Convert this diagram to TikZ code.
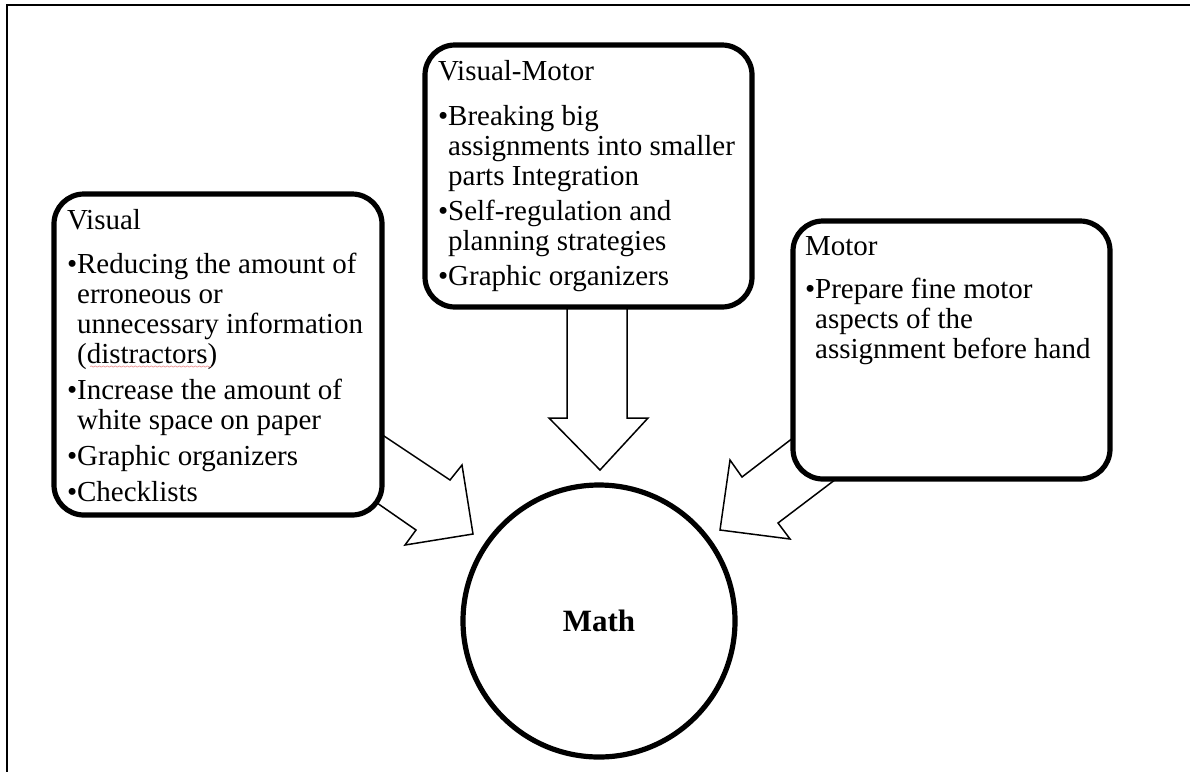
\documentclass[tikz,border=0pt]{standalone}
\usepackage{fontspec}
\setmainfont{Liberation Serif}
\usetikzlibrary{decorations.pathmorphing}
\newcommand{\bodyfont}{\fontsize{29}{30}\selectfont}
\newcommand{\myind}{\phantom{•}}
\begin{document}
\begin{tikzpicture}[x=1pt,y=-1pt,
  box/.style={draw,line width=5.2pt,rounded corners=30pt,fill=white,inner sep=0pt,outer sep=0pt,anchor=north west},
  blockarrow/.style={draw,line width=1.5pt,fill=white,line join=miter},
  txt/.style={anchor=base west,inner sep=0pt,outer sep=0pt},
  spell/.style={draw={rgb,255:red,235;green,140;blue,140},line width=0.6pt,decorate,decoration={snake,amplitude=0.6pt,segment length=4pt}}
]
\useasboundingbox (0,0) rectangle (1190,772);
% page frame
\draw[line width=1.3pt] (6.5,5) -- (1190,5);
\draw[line width=2pt] (6.5,4.4) -- (6.5,772);

% block arrows
\draw[blockarrow] (567,300) -- (567,418) -- (549,418) -- (600,470) -- (648,418) -- (627,418) -- (627,300) -- cycle;
\draw[blockarrow] (372,428) -- (450,480) -- (462,465) -- (473,534) -- (405,545) -- (416,530) -- (367,496) -- cycle;
\draw[blockarrow] (802,431) -- (742,477) -- (730,460) -- (720,530) -- (790,539) -- (778,523) -- (840,476) -- cycle;

% boxes
\node[box,minimum width=328pt,minimum height=321pt] (visual) at (54,194) {};
\node[box,minimum width=327pt,minimum height=262pt] (vismotor) at (425,45) {};
\node[box,minimum width=317pt,minimum height=258pt] (motor) at (793,221) {};
\node[draw,circle,line width=5.2pt,minimum size=272pt,inner sep=0pt,outer sep=0pt,fill=white,
  font=\fontsize{31}{36}\selectfont\bfseries] (math) at (599,621) {Math};

% texts
\node[txt] (visualtext) at (67,229) {\parbox[t]{320pt}{\bodyfont
Visual\\[14pt]
•Reducing the amount of\\
\myind erroneous or\\
\myind unnecessary information\\
\myind (distractors)\\[6pt]
•Increase the amount of\\
\myind white space on paper\\[6pt]
•Graphic organizers\\[6pt]
•Checklists}};
\draw[spell] (90,366.5) -- (211,366.5);

\node[txt] (vismotortext) at (438,80) {\parbox[t]{320pt}{\bodyfont
Visual-Motor\\[15pt]
•Breaking big\\
\myind assignments into smaller\\
\myind parts Integration\\[5pt]
•Self-regulation and\\
\myind planning strategies\\[5pt]
•Graphic organizers}};

\node[txt] (motortext) at (805,255) {\parbox[t]{320pt}{\bodyfont
Motor\\[13pt]
•Prepare fine motor\\
\myind aspects of the\\
\myind assignment before hand}};
\end{tikzpicture}
\end{document}
